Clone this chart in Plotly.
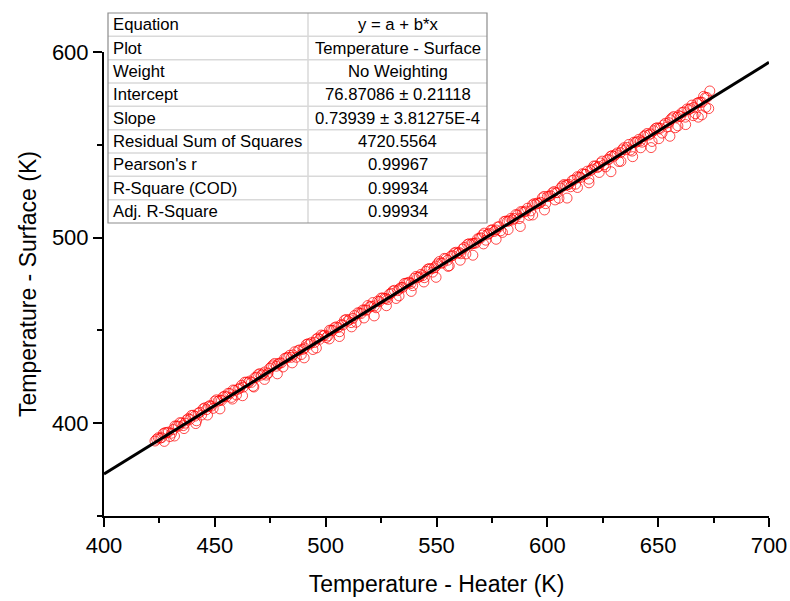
import plotly.graph_objects as go

# ---------------- data ----------------
heater_main = [
    423.0, 424.5, 426.0, 427.5, 429.0, 430.5, 432.0, 433.5, 435.0, 436.5,
    438.0, 439.5, 441.0, 442.5, 444.0, 445.5, 447.0, 448.5, 450.0, 451.5,
    453.0, 454.5, 456.0, 457.5, 459.0, 460.5, 462.0, 463.5, 465.0, 466.5,
    468.0, 469.5, 471.0, 472.5, 474.0, 475.5, 477.0, 478.5, 480.0, 481.5,
    483.0, 484.5, 486.0, 487.5, 489.0, 490.5, 492.0, 493.5, 495.0, 496.5,
    498.0, 499.5, 501.0, 502.5, 504.0, 505.5, 507.0, 508.5, 510.0, 511.5,
    513.0, 514.5, 516.0, 517.5, 519.0, 520.5, 522.0, 523.5, 525.0, 526.5,
    528.0, 529.5, 531.0, 532.5, 534.0, 535.5, 537.0, 538.5, 540.0, 541.5,
    543.0, 544.5, 546.0, 547.5, 549.0, 550.5, 552.0, 553.5, 555.0, 556.5,
    558.0, 559.5, 561.0, 562.5, 564.0, 565.5, 567.0, 568.5, 570.0, 571.5,
    573.0, 574.5, 576.0, 577.5, 579.0, 580.5, 582.0, 583.5, 585.0, 586.5,
    588.0, 589.5, 591.0, 592.5, 594.0, 595.5, 597.0, 598.5, 600.0, 601.5,
    603.0, 604.5, 606.0, 607.5, 609.0, 610.5, 612.0, 613.5, 615.0, 616.5,
    618.0, 619.5, 621.0, 622.5, 624.0, 625.5, 627.0, 628.5, 630.0, 631.5,
    633.0, 634.5, 636.0, 637.5, 639.0, 640.5, 642.0, 643.5, 645.0, 646.5,
    648.0, 649.5, 651.0, 652.5, 654.0, 655.5, 657.0, 658.5, 660.0, 661.5,
    663.0, 664.5, 666.0, 667.5, 669.0, 670.5, 672.0,
]
surface_main = [
    390.4, 392.2, 392.2, 394.9, 395.2, 394.6, 398.5, 398.4, 400.1, 400.0,
    402.5, 404.2, 403.8, 405.4, 404.4, 408.3, 408.9, 409.2, 411.9, 411.9,
    412.3, 414.6, 416.1, 413.9, 417.7, 418.3, 420.4, 422.1, 421.8, 422.0,
    424.5, 426.2, 425.9, 427.6, 426.9, 430.4, 432.2, 432.0, 432.5, 434.9,
    435.5, 435.5, 438.5, 439.1, 437.0, 440.6, 442.8, 443.4, 443.5, 445.9,
    447.5, 447.4, 447.0, 450.1, 451.5, 451.5, 453.1, 455.5, 455.1, 454.2,
    458.0, 459.5, 459.1, 461.0, 463.4, 463.0, 463.2, 465.8, 467.4, 467.2,
    466.6, 470.0, 471.6, 471.4, 473.1, 475.3, 475.6, 475.3, 478.1, 478.5,
    480.2, 478.4, 483.0, 483.2, 483.7, 485.9, 486.3, 488.8, 487.8, 490.0,
    491.7, 491.6, 491.3, 494.7, 496.4, 496.4, 496.9, 499.3, 499.9, 502.4,
    501.7, 504.0, 503.3, 505.7, 503.7, 508.7, 508.7, 510.3, 510.3, 512.2,
    514.0, 513.8, 515.8, 514.4, 518.3, 518.6, 519.0, 522.2, 522.1, 522.6,
    524.8, 524.2, 526.7, 528.6, 528.4, 527.4, 531.1, 532.8, 532.4, 534.2,
    535.8, 536.2, 538.6, 537.7, 540.2, 539.2, 541.9, 543.8, 543.8, 545.6,
    545.8, 548.4, 548.6, 547.2, 551.4, 551.7, 552.1, 554.5, 556.1, 555.9,
    557.6, 559.2, 558.9, 560.7, 559.6, 563.5, 565.2, 564.9, 565.2, 567.7,
    569.3, 569.5, 570.1, 572.4, 573.0, 576.1, 575.5,
]
heater_second = [
    423.75, 425.25, 426.75, 428.25, 429.75, 431.25, 432.75, 434.25, 435.75, 437.25,
    438.75, 440.25, 441.75, 443.25, 444.75, 446.25, 447.75, 449.25, 450.75, 452.25,
    453.75, 455.25, 456.75, 458.25, 459.75, 461.25, 462.75, 464.25, 465.75, 467.25,
    468.75, 470.25, 471.75, 473.25, 474.75, 476.25, 477.75, 479.25, 480.75, 482.25,
    483.75, 485.25, 486.75, 488.25, 489.75, 491.25, 492.75, 494.25, 495.75, 497.25,
    498.75, 500.25, 501.75, 503.25, 504.75, 506.25, 507.75, 509.25, 510.75, 512.25,
    513.75, 515.25, 516.75, 518.25, 519.75, 521.25, 522.75, 524.25, 525.75, 527.25,
    528.75, 530.25, 531.75, 533.25, 534.75, 536.25, 537.75, 539.25, 540.75, 542.25,
    543.75, 545.25, 546.75, 548.25, 549.75, 551.25, 552.75, 554.25, 555.75, 557.25,
    558.75, 560.25, 561.75, 563.25, 564.75, 566.25, 567.75, 569.25, 570.75, 572.25,
    573.75, 575.25, 576.75, 578.25, 579.75, 581.25, 582.75, 584.25, 585.75, 587.25,
    588.75, 590.25, 591.75, 593.25, 594.75, 596.25, 597.75, 599.25, 600.75, 602.25,
    603.75, 605.25, 606.75, 608.25, 609.75, 611.25, 612.75, 614.25, 615.75, 617.25,
    618.75, 620.25, 621.75, 623.25, 624.75, 626.25, 627.75, 629.25, 630.75, 632.25,
    633.75, 635.25, 636.75, 638.25, 639.75, 641.25, 642.75, 644.25, 645.75, 647.25,
    648.75, 650.25, 651.75, 653.25, 654.75, 656.25, 657.75, 659.25, 660.75, 662.25,
    663.75, 665.25, 666.75, 668.25, 669.75, 671.25,
]
surface_second = [
    391.4, 391.9, 394.4, 394.9, 392.8, 396.6, 398.5, 400.3, 398.7, 401.7,
    402.1, 404.3, 401.3, 405.9, 407.8, 407.3, 409.5, 408.0, 412.6, 412.4,
    414.2, 414.2, 416.0, 417.9, 415.2, 418.9, 419.4, 422.1, 422.7, 419.9,
    424.8, 426.7, 426.6, 425.9, 429.6, 431.4, 430.7, 432.4, 430.3, 435.2,
    436.6, 436.8, 435.5, 439.5, 439.8, 442.4, 442.6, 439.7, 445.3, 445.2,
    447.1, 446.1, 450.1, 450.0, 451.9, 449.3, 452.9, 455.9, 455.8, 456.5,
    454.4, 459.4, 461.0, 460.9, 462.6, 465.0, 462.2, 465.6, 467.5, 467.2,
    469.5, 471.2, 467.2, 472.4, 473.2, 475.4, 476.0, 474.1, 479.1, 478.8,
    479.5, 481.8, 483.3, 481.4, 484.7, 487.1, 486.3, 488.6, 484.8, 490.3,
    492.1, 492.0, 493.8, 491.2, 496.7, 496.8, 497.1, 499.6, 501.4, 498.6,
    502.2, 504.2, 504.1, 505.9, 502.8, 508.9, 509.1, 509.5, 512.4, 510.2,
    513.9, 514.3, 512.0, 517.6, 518.0, 518.4, 521.4, 518.3, 522.3, 524.1,
    524.2, 521.2, 527.8, 528.1, 528.7, 530.8, 528.8, 532.6, 534.4, 534.1,
    531.5, 536.9, 538.5, 538.3, 541.2, 538.1, 542.1, 544.2, 544.7, 541.0,
    547.3, 547.3, 550.2, 546.6, 551.2, 552.9, 551.4, 555.2, 555.3, 551.8,
    558.8, 558.9, 556.3, 561.6, 561.9, 564.5, 559.2, 565.8, 567.4, 564.9,
    568.9, 571.4, 566.8, 572.8, 572.9, 575.4,
]
heater_scatter = [
    427.2, 431.8, 436.1, 441.4, 446.7, 452.3, 457.9, 462.5, 467.6, 472.4,
    478.2, 484.9, 490.3, 495.8, 501.6, 506.2, 511.7, 517.3, 521.9, 527.4,
    533.1, 538.6, 544.3, 549.8, 555.2, 560.7, 566.4, 571.2, 576.9, 582.3,
    587.8, 593.4, 598.7, 603.5, 608.9, 613.6, 618.8, 623.4, 628.7, 633.2,
    638.5, 642.1, 646.8, 650.3, 655.3, 658.9, 662.4, 665.8, 668.1, 669.7,
    671.5, 672.8, 673.3,
]
surface_scatter = [
    390.2, 393.1, 397.1, 399.8, 404.4, 407.7, 413.0, 414.8, 419.5, 423.6,
    426.6, 432.5, 435.2, 440.5, 445.4, 446.7, 451.9, 456.7, 457.8, 463.3,
    468.6, 471.0, 476.1, 478.6, 484.5, 487.8, 490.5, 496.6, 499.1, 504.3,
    506.0, 512.2, 514.9, 520.3, 521.3, 527.0, 529.5, 535.1, 535.5, 541.1,
    543.6, 548.4, 548.5, 553.3, 554.6, 560.2, 560.9, 565.7, 564.9, 566.1,
    570.2, 569.5, 579.0,
]

intercept = 76.87086
slope = 0.73939
fit_x = [400, 700]
fit_y = [intercept + slope * v for v in fit_x]

table_labels = ["Equation", "Plot", "Weight", "Intercept", "Slope",
                "Residual Sum of Squares", "Pearson's r", "R-Square (COD)",
                "Adj. R-Square"]
table_values = ["y = a + b*x", "Temperature - Surface", "No Weighting",
                "76.87086 \u00b1 0.21118", "0.73939 \u00b1 3.81275E-4",
                "4720.5564", "0.99967", "0.99934", "0.99934"]

x_title = "Temperature - Heater (K)"
y_title = "Temperature - Surface (K)"

# ---------------- layout geometry (pixels) ----------------
W, H = 790, 601
ML, MR, MT, MB = 104, 21, 52, 85
PW, PH = W - ML - MR, H - MT - MB


def px_x(p):
    return (p - ML) / PW


def px_y(p):
    return (H - MB - p) / PH


FONT = "Arial, Liberation Sans, sans-serif"

fig = go.Figure()
fig.add_trace(go.Scatter(
    x=heater_main + heater_second + heater_scatter,
    y=surface_main + surface_second + surface_scatter,
    mode="markers",
    marker=dict(symbol="circle-open", size=10, color="rgba(255,0,0,0.7)",
                line=dict(width=1, color="rgba(255,0,0,0.7)")),
    showlegend=False,
))
fig.add_trace(go.Scatter(
    x=fit_x, y=fit_y, mode="lines",
    line=dict(color="black", width=3),
    showlegend=False,
))

# table
t_left, t_mid, t_right = 108, 308, 487
t_top, t_bot = 13, 223
n = len(table_labels)
rh = (t_bot - t_top) / n
shapes = []
for i in range(1, n):
    yy = t_top + rh * i
    shapes.append(dict(type="line", xref="paper", yref="paper",
                       x0=px_x(t_left), x1=px_x(t_right),
                       y0=px_y(yy), y1=px_y(yy),
                       line=dict(color="#d9d9d9", width=1.5)))
shapes.append(dict(type="line", xref="paper", yref="paper",
                   x0=px_x(t_mid), x1=px_x(t_mid),
                   y0=px_y(t_top), y1=px_y(t_bot),
                   line=dict(color="#d9d9d9", width=1.5)))
shapes.append(dict(type="rect", xref="paper", yref="paper",
                   x0=px_x(t_left), x1=px_x(t_right),
                   y0=px_y(t_bot), y1=px_y(t_top),
                   line=dict(color="#8c8c8c", width=1.2)))
annotations = []
for i, (lab, val) in enumerate(zip(table_labels, table_values)):
    yc = px_y(t_top + rh * (i + 0.5))
    annotations.append(dict(xref="paper", yref="paper", x=px_x(t_left + 3), y=yc,
                            xanchor="left", yanchor="middle", text=lab, showarrow=False,
                            font=dict(family=FONT, size=16.7, color="black")))
    annotations.append(dict(xref="paper", yref="paper", x=px_x((t_mid + t_right) / 2), y=yc,
                            xanchor="center", yanchor="middle", text=val, showarrow=False,
                            font=dict(family=FONT, size=16.7, color="black")))

axis_common = dict(
    showline=True, linecolor="black", linewidth=2,
    ticks="outside", ticklen=9, tickwidth=2, tickcolor="black",
    showgrid=False, zeroline=False, mirror=False,
    tickfont=dict(family=FONT, size=22, color="black"),
)
fig.update_layout(
    width=W, height=H,
    margin=dict(l=ML, r=MR, t=MT, b=MB, autoexpand=False),
    paper_bgcolor="white", plot_bgcolor="white",
    xaxis=dict(range=[400, 700], dtick=50, tick0=0,
               minor=dict(ticks="outside", ticklen=5, tickwidth=2, tickcolor="black", dtick=25),
               title=dict(text=x_title, font=dict(family=FONT, size=23, color="black"), standoff=18),
               **axis_common),
    yaxis=dict(range=[350, 600], dtick=100, tick0=0,
               minor=dict(ticks="outside", ticklen=5, tickwidth=2, tickcolor="black", dtick=50),
               title=dict(text=y_title, font=dict(family=FONT, size=23, color="black"), standoff=9),
               **axis_common),
    shapes=shapes, annotations=annotations,
)

fig.write_html("out.html")
